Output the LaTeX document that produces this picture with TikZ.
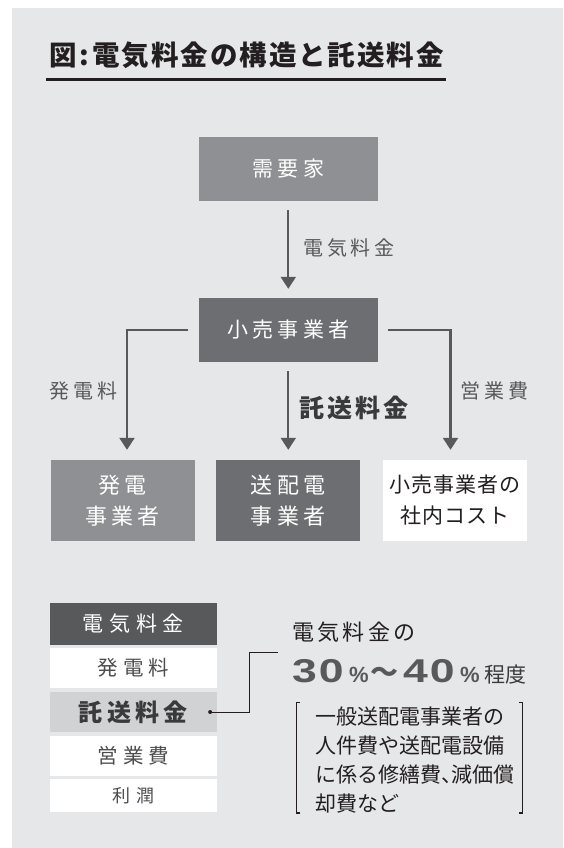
\documentclass[tikz,border=0pt]{standalone}
\usepackage{fontspec}
\setmainfont{Noto Sans CJK JP}
\newfontfamily\digf{Liberation Sans}
\usetikzlibrary{arrows.meta}
\definecolor{bg}{HTML}{E6E7E8}
\definecolor{boxa}{HTML}{8F9093}
\definecolor{boxb}{HTML}{6D6E71}
\definecolor{hdr}{HTML}{58595B}
\definecolor{rowt}{HTML}{D1D2D4}
\definecolor{ln}{HTML}{58595B}
\definecolor{txt}{HTML}{231F20}
\definecolor{txtg}{HTML}{4D4D4F}
\definecolor{txtb}{HTML}{3A3A3C}
\newcommand\myfs[2]{\fontsize{#1pt}{#2pt}\selectfont}
\newcommand\myls[1]{\addfontfeature{LetterSpace=#1}}
\tikzset{
  gbox/.style={rectangle, minimum width=179.4pt, minimum height=64pt, inner sep=0pt,
    text=white, font=\myfs{21}{21}\myls{20}},
  bbox/.style={rectangle, minimum width=144pt, minimum height=81pt, inner sep=0pt,
    align=center, text=white, font=\myfs{22}{31}\myls{20}},
  lbl/.style={inner sep=0pt, text=ln, font=\myfs{20}{20}\myls{18}},
  flow/.style={draw=ln, line width=2.2pt, -{Triangle[width=15pt,length=12pt]}},
  trow/.style={rectangle, minimum width=166.7pt, inner sep=0pt, fill=white, text=txtg},
}
\begin{document}
\begin{tikzpicture}[x=1pt,y=-1pt]
\useasboundingbox (0,0) rectangle (563,848);
\fill[white] (0,0) rectangle (563,848);
\fill[bg] (12,8) rectangle (563,848);
% title
\node[inner sep=0pt, text=txt, font=\bfseries\myfs{27.5}{28}\myls{7}] (title) at (246.5,55)
  {図\hspace{3pt}:\hspace{3pt}電気料金の構造と託送料金};
\draw[txt, line width=3.3pt] (46,79.3) -- (446,79.3);
% upper flow
\node[gbox, fill=boxa] (n1) at (288.3,169) {需要家};
\node[gbox, fill=boxb] (n2) at (288.3,330) {小売事業者};
\draw[flow, shorten <=9pt, shorten >=9pt] (n1) -- (n2);
\node[lbl, anchor=west] (l1) at (303.5,248) {電気料金};
\node[bbox, fill=boxa] (b1) at (122.5,500.5) {発電\\事業者};
\node[bbox, fill=boxb] (b2) at (288.3,500.5) {送配電\\事業者};
\node[bbox, fill=white, text=txt, font=\myfs{21}{31}\myls{4}] (b3) at (455,500.5) {小売事業者の\\社内コスト};
\draw[flow, shorten >=10pt] ([xshift=-10pt]n2.west) -| ([xshift=4.5pt]b1.north);
\draw[flow, shorten >=10pt] ([xshift=10pt]n2.east) -| ([xshift=-4.5pt]b3.north);
\draw[flow, shorten <=9pt, shorten >=10pt] (n2) -- (b2);
\node[lbl] (l2) at (83.5,391) {発電料};
\node[lbl, text=txtb, font=\bfseries\myfs{25}{25}\myls{13}] (l3) at (354,408) {託送料金};
\node[lbl] (l4) at (494.5,391) {営業費};
% table
\node[trow, fill=hdr, text=white, minimum height=42pt, font=\myfs{21}{21}\myls{27}] (t0) at (133.3,624) {電気料金};
\node[trow, minimum height=40pt, font=\myfs{20.5}{20.5}\myls{25}] (t1) at (133.3,668) {発電料};
\node[trow, fill=rowt, text=txtb, minimum height=40pt, font=\bfseries\myfs{24}{24}\myls{18}] (t2) at (133.3,712) {託送料金};
\node[trow, minimum height=40pt, font=\myfs{20.5}{20.5}\myls{25}] (t3) at (133.3,756) {営業費};
\node[trow, minimum height=33pt, font=\myfs{18}{18}\myls{33}] (t4) at (133.3,795.5) {利潤};
\coordinate (dot) at ([xshift=-6.7pt]t2.east);
\coordinate (cend) at (277.5,652);
\fill[txt] (dot) circle (2pt);
\draw[txt, line width=1pt] (dot) -- ++(39,0) |- (cend);
% right text
\node[anchor=west, inner sep=0pt, text=txt, font=\myfs{22}{22}\myls{15}] (p1) at (292,632) {電気料金の};
\node[anchor=base west, inner sep=0pt, text=ln] (p2) at (292,682) {%
  \makebox[57pt][l]{\scalebox{1.35}[1]{\digf\bfseries\myfs{33}{33}3\kern1.5pt 0}}%
  \makebox[21pt][l]{\digf\bfseries\myfs{22}{22}\%}%
  \makebox[33pt][l]{\bfseries\myfs{28}{28}〜}%
  \makebox[57pt][l]{\scalebox{1.35}[1]{\digf\bfseries\myfs{33}{33}4\kern1.5pt 0}}%
  \makebox[24pt][l]{\digf\bfseries\myfs{22}{22}\%}%
  {\color{txtb}\myfs{21}{21}\myls{3}程度}};
\node[anchor=west, inner sep=0pt, text=txt, align=left, font=\myfs{21}{29}] (p3) at (315,760)
  {一般送配電事業者の\\人件費や送配電設備\\に係る修繕費\makebox[0.5em][l]{、}減価償\\却費など};
\draw[txt, line width=1.2pt] (300,702.7) -- (296.5,702.7) -- (296.5,813) -- (300,813);
\draw[txt, line width=1.2pt] (519,702.7) -- (522.5,702.7) -- (522.5,813) -- (519,813);
\end{tikzpicture}
\end{document}
